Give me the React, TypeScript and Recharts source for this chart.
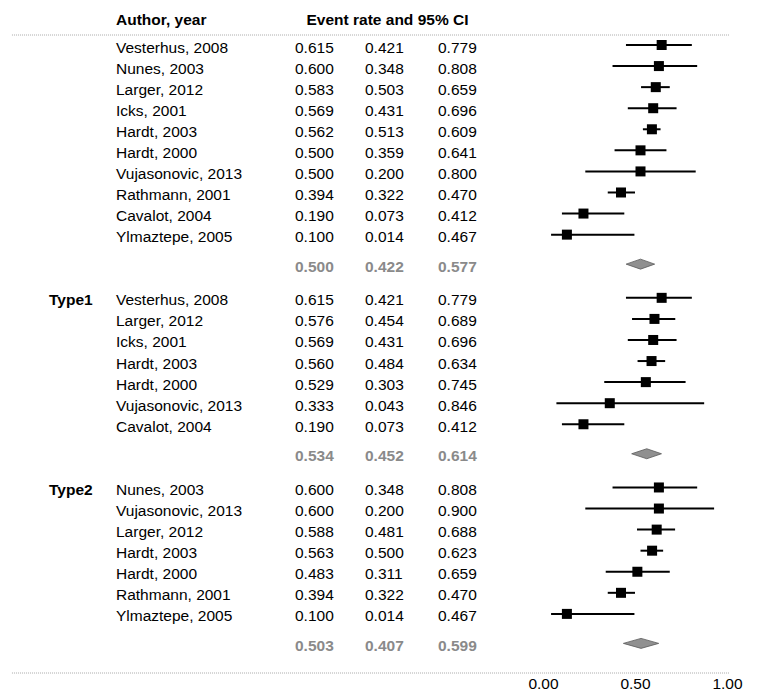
import {
  ErrorBar,
  ReferenceLine,
  Scatter,
  ScatterChart,
  XAxis,
  YAxis,
} from "recharts";

// ---- data -------------------------------------------------------------
const allStudies = [
  "Vesterhus, 2008",
  "Nunes, 2003",
  "Larger, 2012",
  "Icks, 2001",
  "Hardt, 2003",
  "Hardt, 2000",
  "Vujasonovic, 2013",
  "Rathmann, 2001",
  "Cavalot, 2004",
  "Ylmaztepe, 2005",
];
const allRate = [0.615, 0.6, 0.583, 0.569, 0.562, 0.5, 0.5, 0.394, 0.19, 0.1];
const allLower = [0.421, 0.348, 0.503, 0.431, 0.513, 0.359, 0.2, 0.322, 0.073, 0.014];
const allUpper = [0.779, 0.808, 0.659, 0.696, 0.609, 0.641, 0.8, 0.47, 0.412, 0.467];
const allSummary = [0.5, 0.422, 0.577];

const type1Studies = [
  "Vesterhus, 2008",
  "Larger, 2012",
  "Icks, 2001",
  "Hardt, 2003",
  "Hardt, 2000",
  "Vujasonovic, 2013",
  "Cavalot, 2004",
];
const type1Rate = [0.615, 0.576, 0.569, 0.56, 0.529, 0.333, 0.19];
const type1Lower = [0.421, 0.454, 0.431, 0.484, 0.303, 0.043, 0.073];
const type1Upper = [0.779, 0.689, 0.696, 0.634, 0.745, 0.846, 0.412];
const type1Summary = [0.534, 0.452, 0.614];

const type2Studies = [
  "Nunes, 2003",
  "Vujasonovic, 2013",
  "Larger, 2012",
  "Hardt, 2003",
  "Hardt, 2000",
  "Rathmann, 2001",
  "Ylmaztepe, 2005",
];
const type2Rate = [0.6, 0.6, 0.588, 0.563, 0.483, 0.394, 0.1];
const type2Lower = [0.348, 0.2, 0.481, 0.5, 0.311, 0.322, 0.014];
const type2Upper = [0.808, 0.9, 0.688, 0.623, 0.659, 0.47, 0.467];
const type2Summary = [0.503, 0.407, 0.599];

const xTicks = [0, 0.5, 1];

// ---- layout -----------------------------------------------------------
const W = 759;
const H = 700;
const PLOT_LEFT = 548.5;
const PLOT_RIGHT = 732.5;
const PLOT_BOTTOM = 673;
const ROW_H = 21.07;
const FIRST_ROW_Y = 45;
const PX_PER_UNIT = PLOT_RIGHT - PLOT_LEFT; // x domain is [0, 1]
const FONT = "'Liberation Sans', Arial, Helvetica, sans-serif";
const FS = 15.5;
const GRAY = "#8a8a8a";

const yDomain: [number, number] = [
  (0 - FIRST_ROW_Y) / ROW_H,
  (PLOT_BOTTOM - FIRST_ROW_Y) / ROW_H,
];
const headerPos = (19 - FIRST_ROW_Y) / ROW_H;
const topLinePos = (35 - FIRST_ROW_Y) / ROW_H;

type Row = {
  kind: "study" | "summary";
  pos: number;
  group: string;
  name: string;
  rate: number;
  lo: number;
  hi: number;
};

const groups = [
  { label: "", names: allStudies, rate: allRate, lo: allLower, hi: allUpper, sum: allSummary },
  { label: "Type1", names: type1Studies, rate: type1Rate, lo: type1Lower, hi: type1Upper, sum: type1Summary },
  { label: "Type2", names: type2Studies, rate: type2Rate, lo: type2Lower, hi: type2Upper, sum: type2Summary },
];

const rows: Row[] = [];
let pos = 0;
for (const g of groups) {
  g.names.forEach((name, i) => {
    rows.push({
      kind: "study",
      pos,
      group: i === 0 ? g.label : "",
      name,
      rate: g.rate[i],
      lo: g.lo[i],
      hi: g.hi[i],
    });
    pos += 1;
  });
  rows.push({ kind: "summary", pos: pos - 1 + 1.4, group: "", name: "", rate: g.sum[0], lo: g.sum[1], hi: g.sum[2] });
  pos = pos - 1 + 3;
}

const studyPoints = rows
  .filter((r) => r.kind === "study")
  .map((r) => ({ x: r.rate, y: r.pos, err: [r.rate - r.lo, r.hi - r.rate] }));
const summaryPoints = rows
  .filter((r) => r.kind === "summary")
  .map((r) => ({ x: r.rate, y: r.pos, lo: r.lo, hi: r.hi }));

const yTicks = [headerPos, ...rows.map((r) => r.pos)];

// ---- renderers --------------------------------------------------------
const COLS = [295, 365, 438];

function TableTick(props: { y?: number; payload?: { value?: number } }) {
  const { y = 0, payload } = props;
  const v = payload?.value ?? 0;
  if (Math.abs(v - headerPos) < 1e-6) {
    return (
      <g fontFamily={FONT} fontSize={FS} fontWeight={700} fill="#000">
        <text x={116} y={y} dominantBaseline="central">Author, year</text>
        <text x={387.5} y={y} textAnchor="middle" dominantBaseline="central">
          Event rate and 95% CI
        </text>
      </g>
    );
  }
  const row = rows.find((r) => Math.abs(r.pos - v) < 1e-6);
  if (!row) return null;
  const ty = y + 2;
  const vals = [row.rate, row.lo, row.hi];
  if (row.kind === "summary") {
    return (
      <g fontFamily={FONT} fontSize={FS} fontWeight={700} fill={GRAY}>
        {vals.map((n, i) => (
          <text key={i} x={COLS[i]} y={ty} dominantBaseline="central">{n.toFixed(3)}</text>
        ))}
      </g>
    );
  }
  return (
    <g fontFamily={FONT} fontSize={FS} fill="#000">
      {row.group && (
        <text x={49} y={ty} fontWeight={700} dominantBaseline="central">{row.group}</text>
      )}
      <text x={116} y={ty} dominantBaseline="central">{row.name}</text>
      {vals.map((n, i) => (
        <text key={i} x={COLS[i]} y={ty} dominantBaseline="central">{n.toFixed(3)}</text>
      ))}
    </g>
  );
}

function XTick(props: { x?: number; y?: number; payload?: { value?: number } }) {
  const { x = 0, y = 0, payload } = props;
  return (
    <text
      x={x - 5}
      y={y + 10}
      textAnchor="middle"
      dominantBaseline="central"
      fontFamily={FONT}
      fontSize={FS}
      fill="#000"
    >
      {(payload?.value ?? 0).toFixed(2)}
    </text>
  );
}

function Square(props: { cx?: number; cy?: number }) {
  const { cx = 0, cy = 0 } = props;
  return <rect x={cx - 5} y={cy - 5} width={10} height={10} fill="#000" />;
}

function Diamond(props: { cx?: number; cy?: number; payload?: { x: number; lo: number; hi: number } }) {
  const { cx = 0, cy = 0, payload } = props;
  if (!payload) return null;
  const left = cx - (payload.x - payload.lo) * PX_PER_UNIT;
  const right = cx + (payload.hi - payload.x) * PX_PER_UNIT;
  return (
    <polygon
      points={`${left},${cy} ${cx},${cy - 5} ${right},${cy} ${cx},${cy + 5}`}
      fill="#909090"
      stroke="#5a5a5a"
      strokeWidth={0.8}
    />
  );
}

export default function App() {
  return (
    <div style={{ position: "absolute", left: 0, top: 0, background: "#fff" }}>
      <ScatterChart
        width={W}
        height={H}
        margin={{ top: 0, right: W - PLOT_RIGHT, bottom: 0, left: 0 }}
      >
        <XAxis
          type="number"
          dataKey="x"
          domain={[0, 1]}
          ticks={xTicks}
          allowDataOverflow
          axisLine={false}
          tickLine={false}
          tickSize={0}
          tickMargin={0}
          height={H - PLOT_BOTTOM}
          interval={0}
          tick={<XTick />}
        />
        <YAxis
          type="number"
          dataKey="y"
          domain={yDomain}
          reversed
          allowDataOverflow
          ticks={yTicks}
          interval={0}
          width={PLOT_LEFT}
          axisLine={false}
          tickLine={false}
          tick={<TableTick />}
        />
        <ReferenceLine
          segment={[{ x: -2.916, y: topLinePos }, { x: 0.981, y: topLinePos }]}
          ifOverflow="visible"
          stroke="#aaa"
          strokeDasharray="1 1"
        />
        <ReferenceLine
          segment={[{ x: -2.916, y: yDomain[1] }, { x: 0.981, y: yDomain[1] }]}
          ifOverflow="visible"
          stroke="#aaa"
          strokeDasharray="1 1"
        />
        <Scatter data={studyPoints} shape={<Square />} isAnimationActive={false}>
          <ErrorBar dataKey="err" direction="x" width={0} stroke="#000" strokeWidth={2} />
        </Scatter>
        <Scatter data={summaryPoints} shape={<Diamond />} isAnimationActive={false} />
      </ScatterChart>
    </div>
  );
}
